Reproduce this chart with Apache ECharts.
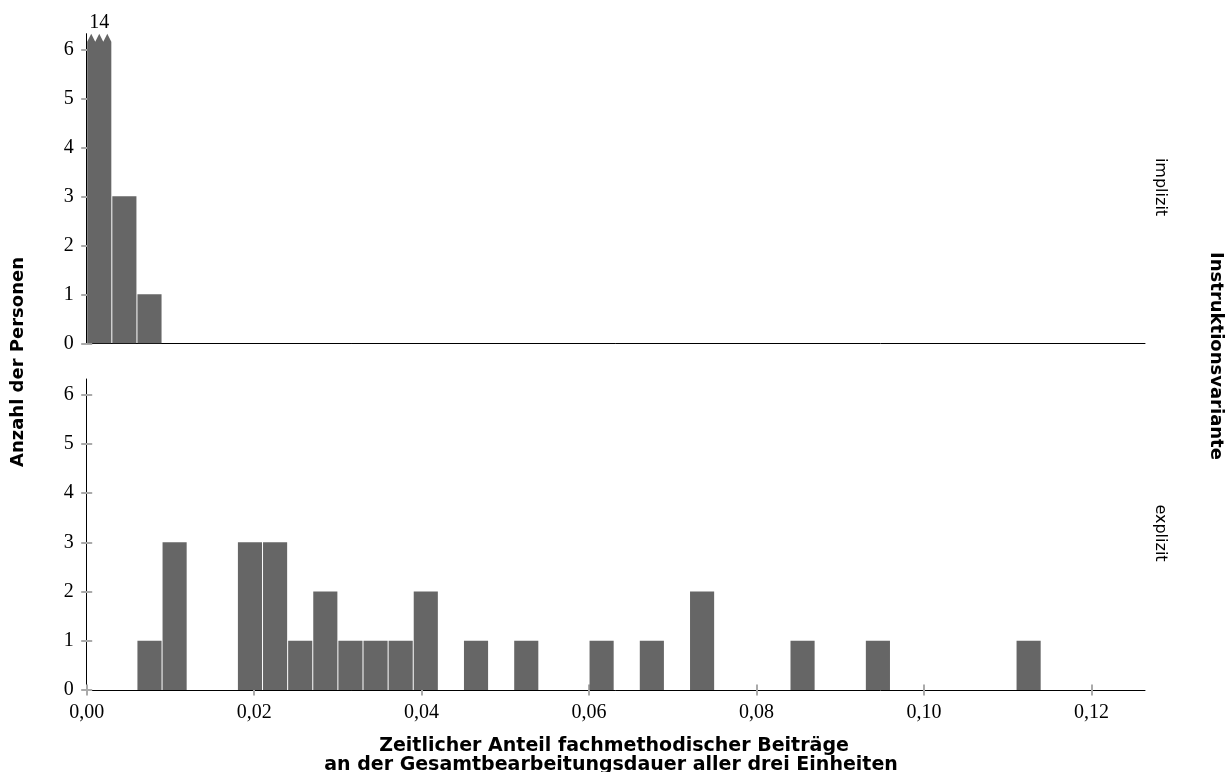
<!DOCTYPE html>
<html><head><meta charset="utf-8">
<script src="https://cdn.jsdelivr.net/npm/echarts@6/dist/echarts.min.js"></script>
<style>html,body{margin:0;padding:0;background:#fff}#c{width:1228px;height:772px}</style>
</head><body><div id="c"></div>
<script>
const binWidth = 0.003;
const implizitBins = [0, 0.003, 0.006];
const implizitCounts = [14, 3, 1];
const explizitBins = [0.006, 0.009, 0.018, 0.021, 0.024, 0.027, 0.030, 0.033, 0.036, 0.039, 0.045, 0.051, 0.060, 0.066, 0.072, 0.084, 0.093, 0.111];
const explizitCounts = [1, 3, 3, 3, 1, 2, 1, 1, 1, 2, 1, 1, 1, 1, 2, 1, 1, 1];
const xTicks = [0, 0.02, 0.04, 0.06, 0.08, 0.10, 0.12];
const yTicks = [0, 1, 2, 3, 4, 5, 6];
const facetLabels = ['implizit', 'explizit'];
const xTitle = ['Zeitlicher Anteil fachmethodischer Beiträge', 'an der Gesamtbearbeitungsdauer aller drei Einheiten'];
const yTitle = 'Anzahl der Personen';
const facetTitle = 'Instruktionsvariante';

const X_MAX = 0.1264, Y_MAX = 6.32;
const BAR = '#666666';
const serif = '"Liberation Serif", "DejaVu Serif", serif';
const sans = '"DejaVu Sans", sans-serif';

const chart = echarts.init(document.getElementById('c'), null, {renderer: 'canvas'});

function fmtX(v) { return v.toFixed(2).replace('.', ','); }

function renderBar(params, api) {
  const x0 = api.value(0), c = api.value(1);
  const x1 = x0 + binWidth;
  const p0 = api.coord([x0, 0]);
  const pt = api.coord([x1, Math.min(c, Y_MAX)]);
  const left = p0[0] + 0.5, right = pt[0] - 0.5;
  const w = right - left;
  if (c <= Y_MAX) {
    return {type: 'rect', shape: {x: left, y: pt[1], width: w, height: p0[1] - pt[1]},
      style: {fill: BAR}};
  }
  const top = pt[1];
  const base = top + 8;
  const pts = [[left, p0[1]], [left, base]];
  const n = 3, tw = w / n;
  for (let i = 0; i < n; i++) {
    pts.push([left + tw * i + tw / 2, top]);
    pts.push([left + tw * (i + 1), base]);
  }
  pts.push([right, p0[1]]);
  return {type: 'group', children: [
    {type: 'polygon', shape: {points: pts}, style: {fill: BAR}},
    {type: 'text', style: {text: String(c), x: (left + right) / 2, y: top - 11, align: 'center', verticalAlign: 'middle',
      font: '20px ' + serif, fill: '#000'}}
  ]};
}

function yAxisFor(gi, inside) {
  return {
    gridIndex: gi, type: 'value', position: 'left', min: 0, max: Y_MAX,
    axisLine: {show: !inside, lineStyle: {color: '#000', width: 1}},
    axisTick: {show: true, inside: inside, length: 5.5, customValues: yTicks, lineStyle: {color: '#aaaaaa', width: 2}},
    axisLabel: {show: !inside, customValues: yTicks, margin: 13, fontFamily: serif, fontSize: 20, color: '#000'},
    splitLine: {show: false}
  };
}
function xAxisFor(gi, labels, inside) {
  return {
    gridIndex: gi, type: 'value', position: 'bottom', min: 0, max: X_MAX,
    axisLine: {show: !inside, onZero: false, lineStyle: {color: '#000', width: 1}},
    axisTick: {show: labels, inside: inside, length: 5.5, customValues: xTicks, lineStyle: {color: '#aaaaaa', width: 2}},
    axisLabel: {show: labels && !inside, customValues: xTicks, formatter: fmtX, margin: 13, fontFamily: serif, fontSize: 20, color: '#000'},
    splitLine: {show: false}
  };
}

const option = {
  animation: false,
  backgroundColor: '#fff',
  grid: [
    {left: 86.7, right: 83, top: 33.7, height: 309.6},
    {left: 86.7, right: 83, top: 379, height: 311}
  ],
  xAxis: [xAxisFor(0, false, false), xAxisFor(1, true, false), xAxisFor(1, true, true)],
  yAxis: [yAxisFor(0, false), yAxisFor(1, false), yAxisFor(0, true), yAxisFor(1, true)],
  series: [
    {type: 'custom', xAxisIndex: 0, yAxisIndex: 0, renderItem: renderBar, clip: false,
      data: implizitBins.map((b, i) => [b, implizitCounts[i]])},
    {type: 'custom', xAxisIndex: 1, yAxisIndex: 1, renderItem: renderBar,
      data: explizitBins.map((b, i) => [b, explizitCounts[i]])}
  ],
  graphic: [
    {type: 'text', x: 1160, y: 187, rotation: -Math.PI / 2,
      style: {text: facetLabels[0], font: '16px ' + sans, fill: '#000', align: 'center', verticalAlign: 'middle'}},
    {type: 'text', x: 1160, y: 533, rotation: -Math.PI / 2,
      style: {text: facetLabels[1], font: '16px ' + sans, fill: '#000', align: 'center', verticalAlign: 'middle'}},
    {type: 'text', x: 1216, y: 356, rotation: -Math.PI / 2,
      style: {text: facetTitle, font: 'bold 18px ' + sans, fill: '#000', align: 'center', verticalAlign: 'middle'}},
    {type: 'text', x: 18, y: 362, rotation: Math.PI / 2,
      style: {text: yTitle, font: 'bold 18px ' + sans, fill: '#000', align: 'center', verticalAlign: 'middle'}},
    {type: 'text', x: 614, y: 746, style: {text: xTitle[0], font: 'bold 19px ' + sans, fill: '#000', align: 'center', verticalAlign: 'middle'}},
    {type: 'text', x: 611, y: 765, style: {text: xTitle[1], font: 'bold 19px ' + sans, fill: '#000', align: 'center', verticalAlign: 'middle'}}
  ]
};
chart.setOption(option);
</script>
</body></html>
